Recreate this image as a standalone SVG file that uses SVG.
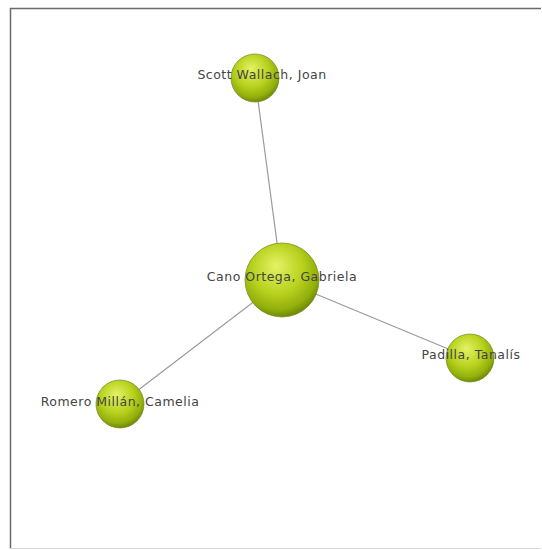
<svg xmlns="http://www.w3.org/2000/svg" width="542" height="550" viewBox="0 0 542 550">
<defs>
<radialGradient id="ball" cx="0.45" cy="0.38" r="0.62" fx="0.42" fy="0.3">
<stop offset="0" stop-color="#e4f266"/>
<stop offset="0.55" stop-color="#b8d21e"/>
<stop offset="0.85" stop-color="#93b00c"/>
<stop offset="1" stop-color="#6f8a06"/>
</radialGradient>
</defs>
<style>
.node circle{fill:url(#ball);stroke:#6f8a20;stroke-width:1;stroke-opacity:0.7}
.node text{font-family:"DejaVu Sans",Verdana,sans-serif;font-size:12.5px;letter-spacing:0.5px;fill:#444;text-anchor:middle}
.edge{stroke:#9a9a9a;stroke-width:1.2;fill:none}
</style>
<rect x="0" y="0" width="542" height="550" fill="#fff"/>
<path d="M10.5 549 V8.5 H541" fill="none" stroke="#6a6a6a" stroke-width="1.5"/>
<path d="M10 548.5 H541" fill="none" stroke="#d8d8d8" stroke-width="1"/>
<g id="connectors">
<line class="edge" x1="282" y1="280" x2="255" y2="78"/>
<line class="edge" x1="282" y1="280" x2="470" y2="358"/>
<line class="edge" x1="282" y1="280" x2="120" y2="404"/>
</g>
<g id="node-scott" class="node">
<circle cx="255" cy="78" r="24"/>
<text x="262" y="79">Scott Wallach, Joan</text>
</g>
<g id="node-cano" class="node">
<circle cx="282" cy="280" r="37"/>
<text x="282" y="281">Cano Ortega, Gabriela</text>
</g>
<g id="node-padilla" class="node">
<circle cx="470" cy="358" r="24"/>
<text x="471" y="359">Padilla, Tanalís</text>
</g>
<g id="node-romero" class="node">
<circle cx="120" cy="404" r="24"/>
<text x="120" y="406">Romero Millán, Camelia</text>
</g>
</svg>
